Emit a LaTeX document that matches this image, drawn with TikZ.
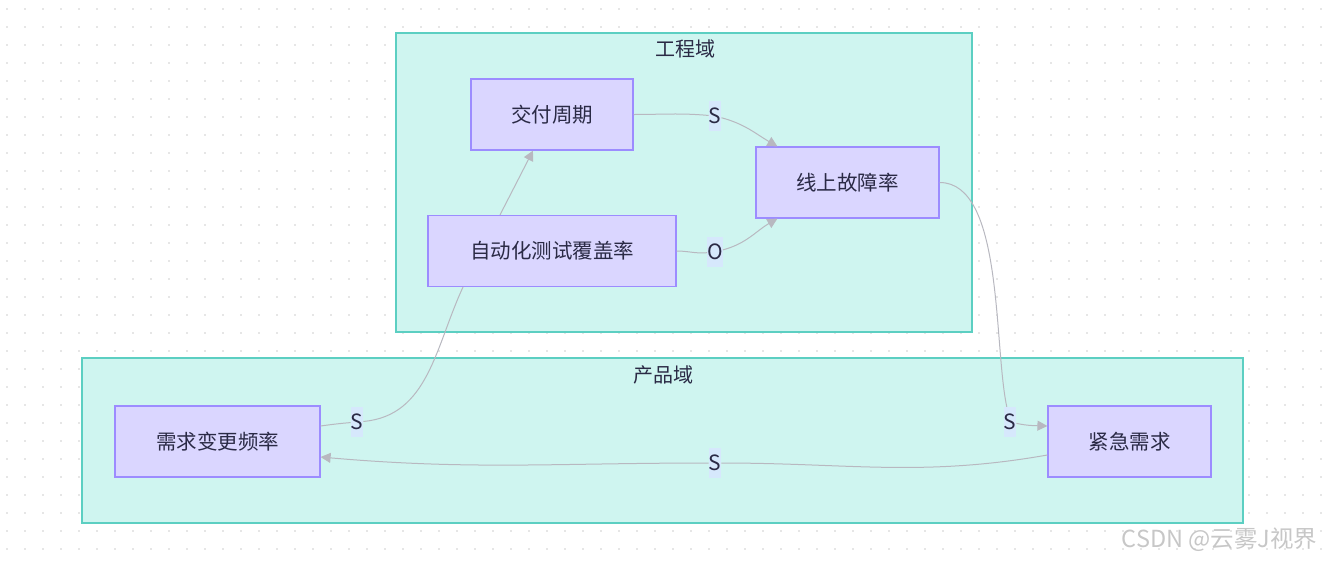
\documentclass[tikz,border=0pt]{standalone}
\usepackage{fontspec}
\setmainfont{Noto Sans CJK SC}
\usetikzlibrary{arrows.meta}

\definecolor{domfill}{HTML}{CFF5F0}
\definecolor{domline}{HTML}{5CCFC2}
\definecolor{boxfill}{HTML}{DAD6FF}
\definecolor{boxline}{HTML}{9C8CFF}
\definecolor{edgec}{HTML}{B8B8C0}
\definecolor{lblfill}{HTML}{D6E8FC}
\definecolor{txt}{HTML}{2A2A45}
\definecolor{dotc}{HTML}{E6E6E6}

\tikzset{
  dombox/.style={fill=domfill, draw=domline, line width=1.2pt},
  dtitle/.style={text=txt, font=\fontsize{20}{24}\selectfont},
  box/.style={rectangle, fill=boxfill, draw=boxline, line width=1.2pt, text=txt,
    minimum height=71pt, font=\fontsize{20.5}{24}\selectfont},
  lbl/.style={fill=lblfill, text=txt, inner xsep=0pt, inner ysep=0pt,
    minimum height=30pt, minimum width=10pt, font=\fontsize{21}{24}\selectfont},
  edge/.style={draw=edgec, line width=1pt},
  arr/.style={edge, -{Triangle[length=10pt,width=10pt]}}
}

\begin{document}
\begin{tikzpicture}[x=1pt,y=-1pt]
\useasboundingbox (0,0) rectangle (1329,560);
% dotted background
\foreach \i in {0,...,73}
  \foreach \j in {0,...,30}
    \fill[dotc] (6+18*\i,8+18*\j) rectangle ++(1.6,1.6);

% domains
\draw[dombox] (396,33) rectangle (972,332);
\node[dtitle] (gcy) at (685,49) {工程域};
\draw[dombox] (82,358) rectangle (1243,523);
\node[dtitle] (cpy) at (663,375) {产品域};

% boxes
\node[box, minimum width=162pt] (jf) at (552,114.5) {交付周期};
\node[box, minimum width=183pt] (gz) at (847.5,182.5) {线上故障率};
\node[box, minimum width=248pt] (zd) at (552,251) {自动化测试覆盖率};
\node[box, minimum width=205pt] (xq) at (217.5,441.5) {需求变更频率};
\node[box, minimum width=163pt] (jj) at (1129.5,441.5) {紧急需求};

% edge labels
\node[lbl] (s1) at (715,116) {S};
\node[lbl] (o1) at (715,252) {O};
\node[lbl] (s3) at (357,422) {S};
\node[lbl] (s4) at (1010,422) {S};
\node[lbl] (s5) at (715,463) {S};

% edges
\draw[arr] (jf.east) to[out=0,in=175] (s1) to[out=-15,in=150] ([xshift=22pt]gz.north west);
\draw[arr] (zd.east) to[out=0,in=185] (o1) to[out=15,in=-150] ([xshift=22pt]gz.south west);
\draw[arr] ([xshift=-52pt]zd.north) -- ([xshift=-19pt]jf.south);
\draw[edge] ([yshift=15.5pt]xq.east) to[out=8,in=185] (s3) to[out=5,in=-115] ([xshift=-89pt]zd.south);
\draw[arr] (gz.east) to[out=0,in=102,looseness=0.7] (s4) to[out=-12,in=178] ([yshift=15.5pt]jj.west);
\draw[arr] ([yshift=-13.5pt]jj.west) to[out=190,in=0] (s5) to[out=180,in=-5] ([yshift=-15.5pt]xq.east);

% watermark
\node[text=black!22, font=\fontsize{23.5}{28}\selectfont, anchor=east] (wm) at (1321,540) {CSDN @云雾J视界};
\end{tikzpicture}
\end{document}
